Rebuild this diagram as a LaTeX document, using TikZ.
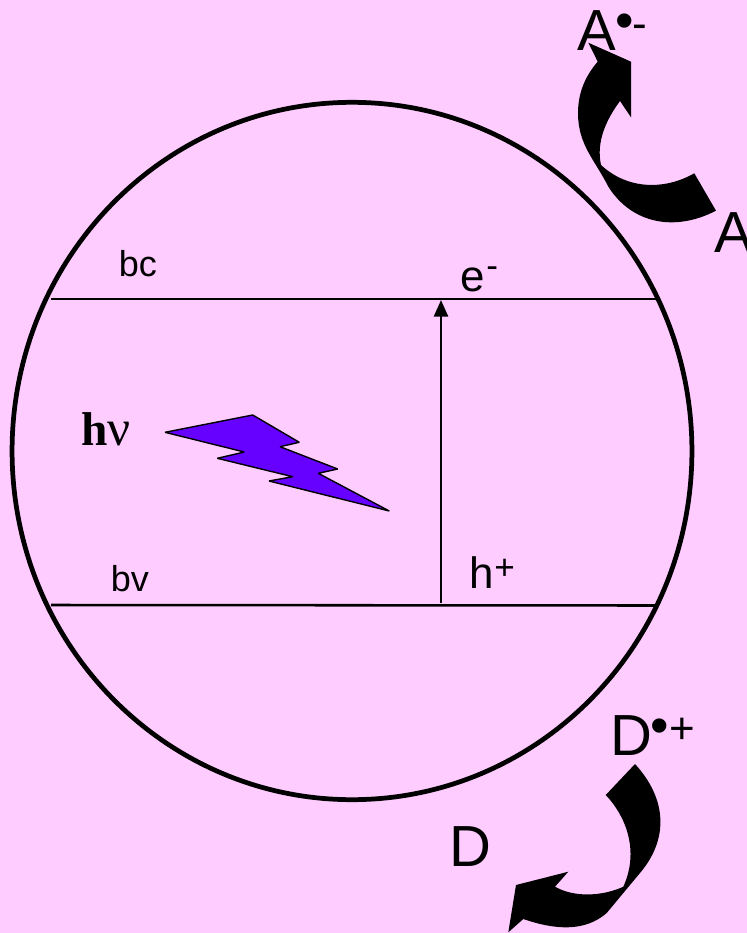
\documentclass[tikz,border=0pt]{standalone}
\usepackage{fontspec}
\setmainfont{Liberation Sans}
\newfontfamily\serifbold{Liberation Serif}
\usepackage{xcolor}
\usetikzlibrary{arrows.meta, shapes.geometric}
\definecolor{bgpink}{HTML}{FFCCFF}
\definecolor{boltblue}{HTML}{6600FF}

\begin{document}
\begin{tikzpicture}[x=0.02cm, y=-0.02cm,
    biglab/.style={anchor=base west, inner sep=0pt, font=\fontsize{33}{33}\selectfont},
    midlab/.style={anchor=base west, inner sep=0pt, font=\fontsize{25}{25}\selectfont},
    suplab/.style={anchor=base west, inner sep=0pt, font=\fontsize{20}{20}\selectfont},
    smalllab/.style={anchor=base west, inner sep=0pt, font=\fontsize{20.5}{20.5}\selectfont},
    band/.style={line width=1.45pt},
    fatarr/.style={fill=black, draw=none}]

    % Background
    \fill[bgpink] (0,0) rectangle (747,933);
    \useasboundingbox (0,0) rectangle (747,933);

    % Particle
    \node[draw, ellipse, line width=2.7pt, minimum width=13.6cm, minimum height=13.95cm, inner sep=0pt] (particle) at (352,451) {};

    % Bands
    \coordinate (bcL) at (51,299);
    \coordinate (bcR) at (658,299);
    \coordinate (bvL) at (51,605);
    \coordinate (bvR) at (655,605.5);
    \draw[band] (bcL) to (bcR);
    \draw[band] (bvL) to (bvR);
    \coordinate (exS) at (441,603);
    \coordinate (exE) at (441,300);
    \draw[band, -{Triangle[length=9.5pt, width=8pt]}] (exS) to (exE);

    \node[smalllab] (bc) at (118.5,276) {bc};
    \node[smalllab] (bv) at (110.5,591) {bv};
    \node[midlab] (eminus) at (460,291) {e};
    \node[suplab] (eminusup) at (486,277) {-};
    \node[midlab] (hplus) at (469,588) {h};
    \node[suplab] (hplusup) at (494,579) {+};

    % Light
    \node[anchor=base west, inner sep=0pt, font=\serifbold\bfseries\fontsize{27}{27}\selectfont] (hnu) at (81,445) {h\fontsize{29}{29}\selectfont\mdseries ν};
    \draw[fill=boltblue, line width=0.8pt, miter limit=2]
      (165,432.3) -- (252.7,415) -- (299.3,442.3) -- (280,446.7) -- (337.7,469)
      -- (318.3,473.3) -- (389.3,511) -- (269,481) -- (292.7,476.7) -- (217.3,458.3)
      -- (244.3,452) -- cycle;

    % Acceptor
    \node[biglab] (Aion) at (577,51) {A};
    \node[biglab] (Aup) at (615,38) {\fontsize{30}{30}\selectfont •\kern-1pt\fontsize{25}{25}\selectfont -};
    \node[biglab] (A) at (714,252) {A};
    \fill[fatarr] (588.3,42.7) -- (631,61.7) -- (631,117.3) -- (620,101)
      .. controls (606,120) and (596,142) .. (601,165)
      .. controls (628,190) and (665,190) .. (694.3,173.3)
      -- (716,210.7)
      .. controls (675,232) and (632,224) .. (608.3,186.7)
      .. controls (595,160) and (578,145) .. (578,113)
      .. controls (578,92) and (586,75) .. (597.7,61.7) -- cycle;

    % Donor
    \node[biglab] (Dion) at (610,755) {D};
    \node[biglab] (Dup) at (650,743) {\fontsize{30}{30}\selectfont •\kern0.5pt\fontsize{25}{25}\selectfont +};
    \node[biglab] (D) at (449,866) {D};
    \fill[fatarr] (635,764) -- (605.7,795)
      .. controls (625,815) and (640,850) .. (623.3,886.7)
      .. controls (603,896) and (575,898) .. (555,886.7)
      -- (568.3,871.7) -- (516,885) -- (508.3,932.3) -- (523.3,919)
      .. controls (555,930) and (585,932) .. (606.7,913)
      -- (640,873)
      .. controls (668,840) and (668,800) .. (635,764) -- cycle;
\end{tikzpicture}
\end{document}
